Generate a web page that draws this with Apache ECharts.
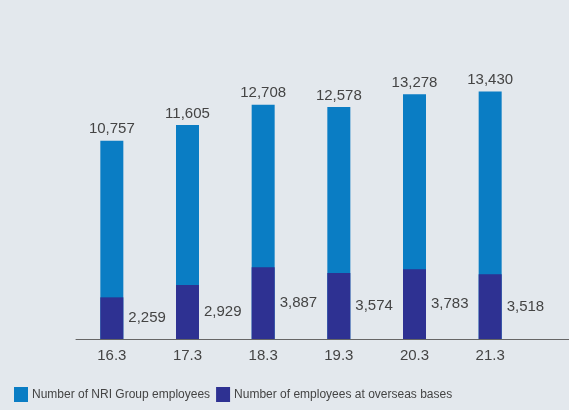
<!DOCTYPE html>
<html>
<head>
<meta charset="utf-8">
<style>
  html, body { margin: 0; padding: 0; background: #e3e8ed; }
  #main { width: 569px; height: 410px; }
</style>
<script src="https://cdn.jsdelivr.net/npm/echarts@6/dist/echarts.min.js"></script>
</head>
<body>
<div id="main"></div>
<script>
// 数据
var categories = ['16.3', '17.3', '18.3', '19.3', '20.3', '21.3'];
var groupEmployees = [10757, 11605, 12708, 12578, 13278, 13430];
var overseasEmployees = [2259, 2929, 3887, 3574, 3783, 3518];

;(function() {
  var myChart = echarts.init(document.getElementById('main'));
  var fmt = function(p) { return p.value.toLocaleString('en-US'); };

  var option = {
    backgroundColor: '#e3e8ed',
    textStyle: { fontFamily: 'Liberation Sans' },
    legend: {
      left: 9,
      bottom: 3,
      itemWidth: 14,
      itemHeight: 15,
      itemGap: 6,
      icon: 'rect',
      textStyle: {
        fontFamily: '"Liberation Sans Narrow", "Liberation Sans", sans-serif',
        fontSize: 12,
        color: '#444',
        padding: [0, 0, 0, -1]
      },
      data: ['Number of NRI Group employees', 'Number of employees at overseas bases']
    },
    grid: [
      // 柱子所在网格
      { left: 74, right: 41, top: 44, bottom: 71 },
      // 只用来画一条长的底部轴线
      { left: 76, right: 0, top: 44, bottom: 71 }
    ],
    xAxis: [
      {
        type: 'category',
        gridIndex: 0,
        data: categories,
        axisLine: { show: false },
        axisTick: { show: false },
        axisLabel: { color: '#444', fontSize: 15, margin: 9 }
      },
      {
        type: 'value',
        gridIndex: 1,
        min: 0,
        max: 1,
        axisLine: { show: true, lineStyle: { color: '#666', width: 1 } },
        axisTick: { show: false },
        axisLabel: { show: false },
        splitLine: { show: false }
      }
    ],
    yAxis: [
      { type: 'value', gridIndex: 0, min: 0, max: 16000, show: false },
      { type: 'value', gridIndex: 1, min: 0, max: 1, show: false }
    ],
    series: [
      {
        name: 'Number of NRI Group employees',
        type: 'bar',
        data: groupEmployees,
        barWidth: 23,
        itemStyle: { color: '#0a7dc4' },
        label: {
          show: true,
          position: 'top',
          distance: 4,
          color: '#444',
          fontSize: 15,
          formatter: fmt
        }
      },
      {
        name: 'Number of employees at overseas bases',
        type: 'bar',
        data: overseasEmployees,
        barWidth: 23,
        barGap: '-100%',
        itemStyle: { color: '#2e3192' },
        label: {
          show: true,
          position: 'right',
          distance: 5,
          color: '#444',
          fontSize: 15,
          formatter: fmt
        }
      }
    ]
  };

  myChart.setOption(option);
  window.addEventListener('resize', function() {
    myChart.resize();
  });
})();
</script>
</body>
</html>
